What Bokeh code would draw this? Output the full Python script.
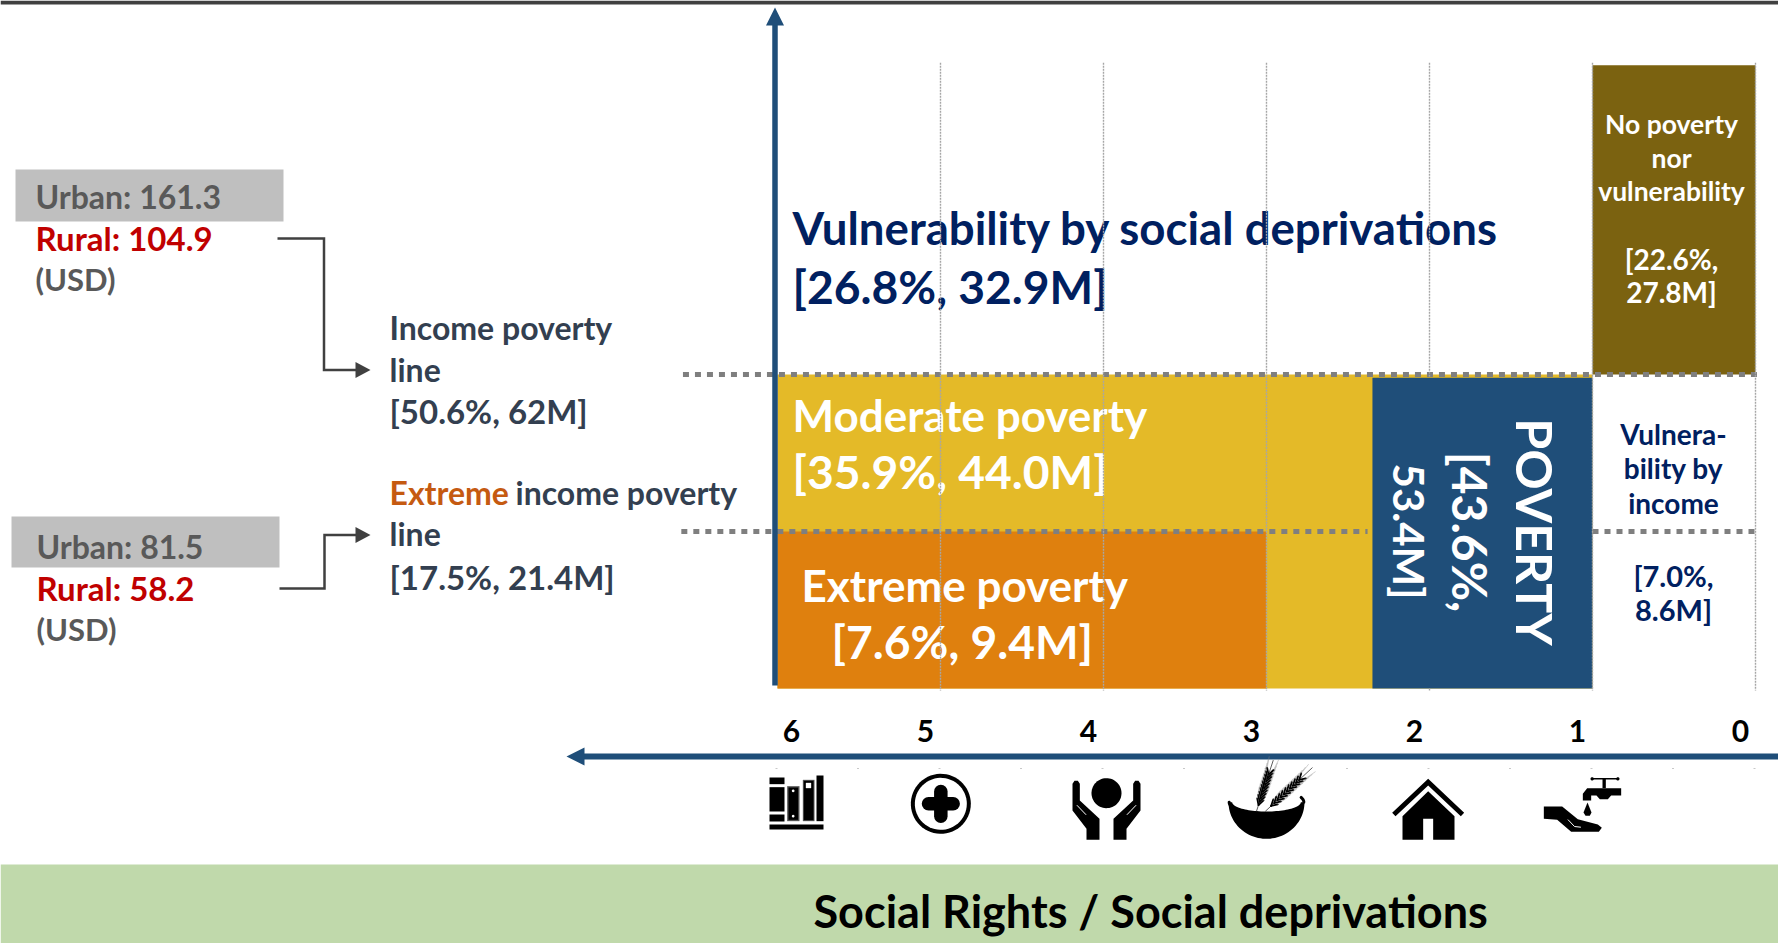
import numpy as np
from bokeh.core.properties import value
from bokeh.embed import file_html
from bokeh.models import ColumnDataSource, Range1d
from bokeh.plotting import figure
from bokeh.resources import INLINE

# Poverty regions: deprivation counts on x, income level on y
# (income level 0 = bottom, 1 = extreme poverty line, 2 = poverty line)
region_names = ["Moderate poverty", "Extreme poverty", "Poverty", "No poverty nor vulnerability"]
region_dep_left = [6.0, 6.0, 2.35, 1.0]
region_dep_right = [1.0, 3.0, 1.0, 0.0]
region_income_low = [0.0, 0.0, 0.0, 2.0]
region_income_high = [2.0, 1.0, 1.98, 3.97]
region_colors = ["#E4BA28", "#DF800E", "#1F4E79", "#7B6210"]

deprivation_ticks = [6, 5, 4, 3, 2, 1, 0]
deprivation_grid = [5, 4, 3, 1, 0]
income_lines = [2, 1]

FONT = "Lato"
NAVY = "#002060"
SLATE = "#333F50"
GREY = "#595959"
RED = "#C00000"
AXIS = "#1F4E79"
BASELINE_SHIFT = 0.36  # the svg text sits this fraction of its size below the anchor

W, H = 1778, 943
p = figure(width=W, height=H, x_range=Range1d(0, W), y_range=Range1d(H, 0),
           x_axis_type=None, y_axis_type=None, output_backend="svg",
           toolbar_location=None, min_border=0, outline_line_color=None,
           background_fill_color="white", border_fill_color="white")
p.grid.visible = False

# Scales for the chart proper; the default ranges are page pixels for annotations
PX_PER_DEP = 163.0
PX_PER_INCOME = 157.0
p.extra_x_ranges["dep"] = Range1d(1755 / PX_PER_DEP, (1755 - W) / PX_PER_DEP)
p.extra_y_ranges["inc"] = Range1d((688 - H) / PX_PER_INCOME, 688 / PX_PER_INCOME)
CHART = dict(x_range_name="dep", y_range_name="inc")


def label(lines, x, size, color, align="left", bold=True, angle=0.0, font=FONT):
    """lines: (text, baseline y) pairs, or (text, x, y) triples when x varies."""
    xs, ys, ts = [], [], []
    shift = BASELINE_SHIFT * size
    for ln in lines:
        if len(ln) == 3:
            ts.append(ln[0]); xs.append(ln[1]); ys.append(ln[2])
        else:
            ts.append(ln[0]); xs.append(x); ys.append(ln[1])
    if angle:
        xs = [v + shift for v in xs]
    else:
        ys = [v - shift for v in ys]
    p.text(x=xs, y=ys, text=ts, text_font=value(font), text_font_size=f"{size}px",
           text_font_style="bold" if bold else "normal", text_color=color,
           text_align=align, text_baseline="alphabetic", angle=angle)


# Page furniture
p.quad(left=[0], right=[W], top=[0], bottom=[4], color="#404040", line_color=None)
p.quad(left=[0], right=[W], top=[864], bottom=[H], color="#C0D9AB", line_color=None)
p.quad(left=[15], right=[283], top=[169], bottom=[221], color="#BFBFBF", line_color=None)
p.quad(left=[11], right=[279], top=[516], bottom=[567], color="#BFBFBF", line_color=None)

# Regions
p.quad(left=region_dep_left, right=region_dep_right, bottom=region_income_low,
       top=region_income_high, color=region_colors, line_color=None, **CHART)

# Income lines
DOT = dict(line_color="#7F7F7F", line_width=5, line_dash="6 6")
p.line([6.58, -0.02], [income_lines[0]] * 2, **DOT, **CHART)
p.line([6.59, 2.38], [income_lines[1]] * 2, **DOT, **CHART)
p.line([1.0, 0.0], [income_lines[1]] * 2, **DOT, **CHART)

# Axes with their arrowheads
p.line([774.5, 774.5], [685, 20], line_color=AXIS, line_width=5.5)
p.patch([774.5, 765.5, 783.5], [7, 25, 25], color=AXIS, line_color=None)
p.line([W, 582], [756, 756], line_color=AXIS, line_width=6)
p.patch([566, 584, 584], [756, 747, 765], color=AXIS, line_color=None)

# Connectors from the amounts to the income lines
CONN = dict(line_color="#404040", line_width=2.5, line_join="miter")
p.line([277, 323.5, 323.5, 356], [238, 238, 369.5, 369.5], **CONN)
p.patch([355, 355, 370], [361.5, 377.5, 369.5], color="#404040", line_color=None)
p.line([279, 324, 324, 356], [588, 588, 534.5, 534.5], **CONN)
p.patch([355, 355, 370], [526.5, 542.5, 534.5], color="#404040", line_color=None)

# Left-hand texts
label([("Urban: 161.3", 208)], 35, 32, GREY)
label([("Rural: 104.9", 249)], 35, 33, RED)
label([("(USD)", 290)], 35, 31, GREY)
label([("Urban: 81.5", 557.5)], 36, 32, GREY)
label([("Rural: 58.2", 599)], 36, 33, RED)
label([("(USD)", 640)], 36, 31, GREY)
label([("Income poverty", 339), ("line", 381)], 389, 32, SLATE)
label([("[50.6%, 62M]", 422)], 389, 33, SLATE)
label([("Extreme", 504)], 389, 32, "#C55A11")
label([("income poverty", 504)], 515, 32, SLATE)
label([("line", 545)], 389, 32, SLATE)
label([("[17.5%, 21.4M]", 588)], 389, 33, SLATE)

# Region texts
label([("Vulnerability by social deprivations", 243)], 792, 45.6, NAVY)
label([("[26.8%, 32.9M]", 302)], 792, 46.2, NAVY)
label([("Moderate poverty", 430)], 792, 44, "white")
label([("[35.9%, 44.0M]", 487)], 792, 46.2, "white")
label([("Extreme poverty", 801, 600)], 0, 44, "white")
label([("[7.6%, 9.4M]", 831, 657)], 0, 46.2, "white")
label([("POVERTY", 1516, 531.5)], 0, 50, "white", align="center", angle=-np.pi / 2)
label([("[43.6%,", 1453, 531.5)], 0, 48, "white", align="center", angle=-np.pi / 2)
label([("53.4M]", 1393, 531)], 0, 42, "white", align="center", angle=-np.pi / 2)
label([("No poverty", 133), ("nor", 167), ("vulnerability", 200)], 1671, 26.5, "white", align="center")
label([("[22.6%,", 269), ("27.8M]", 302)], 1671, 28, "white", align="center")
label([("Vulnera-", 444), ("bility by", 478), ("income", 513)], 1673, 28, NAVY, align="center")
label([("[7.0%,", 585), ("8.6M]", 619)], 1673, 29, NAVY, align="center")
label([("Social Rights / Social deprivations", 927)], 813, 45, "black")

# Deprivation count labels sit just beside their gridlines
tick_src = ColumnDataSource(dict(x=deprivation_ticks, y=[0.0] * 7,
                                 t=[str(v) for v in deprivation_ticks],
                                 off=[14, -15, -15, -15, -15, -15, -15]))
p.text(x="x", y="y", text="t", source=tick_src, x_offset="off", y_offset=53 - BASELINE_SHIFT * 30,
       text_font=value(FONT), text_font_size="30px", text_font_style="bold",
       text_color="black", text_align="center", text_baseline="alphabetic", **CHART)

# Gridlines pass over the regions and their texts, except across the poverty block
GRID = dict(line_color="#A6A6A6", line_width=1.4, line_dash="2 1")
for d in deprivation_grid:
    p.line([d, d], [3.985, -0.013], **GRID, **CHART)
p.line([2, 2], [3.985, 1.98], **GRID, **CHART)
p.line([2, 2], [0, -0.013], **GRID, **CHART)

# Small marks under the horizontal axis, two per deprivation step
marks = [776 + 81.5 * i for i in range(13)]
p.segment(x0=[m - 1 for m in marks], y0=[768] * 13, x1=[m + 1 for m in marks], y1=[768] * 13,
          line_color="#C8C8C8", line_width=1)


# Icons are drawn on a 3x grid and brought down to page pixels
def gx(xs, ox):
    return [ox + v / 3 for v in xs]


def gy(ys):
    return [750 + v / 3 for v in ys]


def box(x0, x1, y0, y1, ox, color="black"):
    p.quad(left=[ox + x0 / 3], right=[ox + x1 / 3], top=[750 + y0 / 3], bottom=[750 + y1 / 3],
           color=color, line_color=None)


def poly(pts, ox, color="black"):
    p.patch(gx([a for a, _ in pts], ox), gy([b for _, b in pts]), color=color, line_color=None)


def stroke(pts, ox, width, color="black", cap="round"):
    p.line(gx([a for a, _ in pts], ox), gy([b for _, b in pts]), line_color=color,
           line_width=width, line_cap=cap, line_join="round")


def disc(cx, cy, r, ox, color="black"):
    t = np.linspace(0, 2 * np.pi, 60)
    poly(list(zip(cx + r * np.cos(t), cy + r * np.sin(t))), ox, color)


# Education: books on a shelf
OX = 750
box(57, 102, 81, 101, OX)
box(57, 102, 110, 183, OX)
box(57, 102, 192, 213, OX)
box(110, 147, 107, 212, OX, "#555555")
box(114, 143, 111, 208, OX)
disc(128, 121, 4, OX, "white")
disc(128, 197, 4, OX, "white")
box(157, 192, 88, 212, OX, "#555555")
box(160, 189, 91, 209, OX)
box(166, 182, 97, 113, OX, "white")
box(198, 219, 75, 212, OX)
box(57, 219, 222, 237, OX)

# Health: a cross in a ring
disc(571, 160, 90, OX)
disc(571, 160, 78, OX, "white")
stroke([(534, 160), (608, 160)], OX, 13.5)
stroke([(571, 123), (571, 197)], OX, 13.5)

# Social security: hands holding a person
disc(1068, 128, 45, OX)
hand = [(966, 100), (972, 91), (982, 91), (988, 100), (988, 150), (1047, 205),
        (1047, 268), (1008, 268), (1008, 235), (966, 180)]
poly(hand, OX)
poly([(2136 - a, b) for a, b in hand], OX)
stroke([(980, 165), (1006, 192)], OX, 1, "white")
stroke([(1156, 165), (1130, 192)], OX, 1, "white")

# Food: a bowl of wheat
OX = 1200
t = np.linspace(0, np.pi, 50)
outer = list(zip(198 + 114 * np.cos(t), 155 + 110 * np.sin(t)))
inner = list(zip(198 + 103 * np.cos(t[::-1]), 155 + 28 * np.sin(t[::-1])))
poly(outer + inner, OX)
rim = np.radians(np.linspace(180, 122, 14))
stroke(list(zip(198 + 112 * np.cos(rim), 155 + 38 * np.sin(rim))), OX, 3)
rim = np.radians(np.linspace(0, -22, 6))
stroke(list(zip(198 + 112 * np.cos(rim), 155 + 38 * np.sin(rim))), OX, 3)
for (bx, by), (tx, ty) in [((168, 182), (218, 30)), ((195, 182), (335, 52))]:
    length = np.hypot(tx - bx, ty - by)
    ux, uy = (tx - bx) / length, (ty - by) / length
    vx, vy = -uy, ux
    stroke([(bx, by), (tx, ty)], OX, 0.8, "#333333")
    for f in np.linspace(0.12, 0.72, 10):
        sx, sy = bx + (tx - bx) * f, by + (ty - by) * f
        for side in (-1, 1):
            ax, ay = sx + ux * 18 + side * vx * 10, sy + uy * 18 + side * vy * 10
            stroke([(sx, sy), (ax, ay)], OX, 1.8, "black")
            stroke([(ax, ay), (ax + ux * 34 + side * vx * 5, ay + uy * 34 + side * vy * 5)],
                   OX, 0.4, "#888888")

# Housing
OX = 1200
poly([(683, 85), (791, 187), (781, 197), (683, 105), (585, 197), (575, 187)], OX)
poly([(683, 122), (762, 197), (762, 268), (698, 268), (698, 205), (668, 205), (668, 268),
      (606, 268), (606, 197)], OX)

# Water: a tap over an open hand
stroke([(1177, 85), (1250, 85)], OX, 1.5)
disc(1175, 85, 5, OX)
disc(1252, 85, 5, OX)
box(1206, 1216, 85, 113, OX)
poly([(1147, 150), (1147, 130), (1160, 113), (1262, 113), (1262, 135), (1232, 135),
      (1222, 146), (1198, 146), (1188, 135), (1172, 135), (1172, 150)], OX)
poly([(1161, 156), (1173, 186), (1168, 196), (1155, 196), (1149, 186)], OX)
poly([(1030, 168), (1085, 168), (1132, 206), (1192, 222), (1204, 232), (1195, 244),
      (1112, 244), (1070, 208), (1030, 205)], OX)
stroke([(1103, 208), (1122, 228), (1140, 230)], OX, 1, "white")

open("out.html", "w").write(file_html(p, INLINE))
